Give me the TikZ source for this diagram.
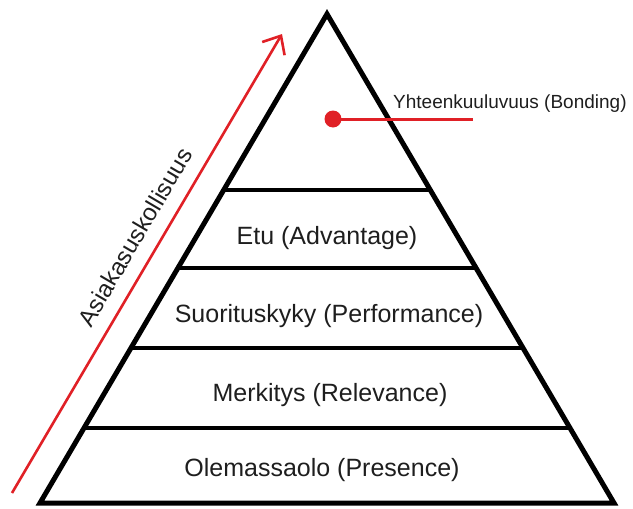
\documentclass[tikz,border=0pt]{standalone}
\usepackage{fontspec}
\setmainfont{Liberation Sans}
\usetikzlibrary{arrows.meta,calc}
\definecolor{arrowred}{RGB}{224,32,38}
\definecolor{txt}{RGB}{30,30,30}
\tikzset{
  edge/.style={line width=5pt, line join=miter, black},
  level/.style={line width=4.6pt, black},
  lvl/.style={anchor=base, inner sep=0pt, text=txt, font=\fontsize{25}{30}\selectfont},
  redline/.style={draw=arrowred, line width=2.6pt},
}
\begin{document}
\begin{tikzpicture}[x=1pt,y=-1pt]
\useasboundingbox (0,0) rectangle (633,509);
% pyramid corners
\coordinate (apex) at (327,14);
\coordinate (bl) at (40,503);
\coordinate (br) at (614,503);
\draw[edge] (apex) -- (bl) -- (br) -- cycle;
% level separators
\foreach \y/\n in {190/a,268/b,348/c,428/d}{
  \coordinate (L\n) at ($(apex)!{(\y-14)/489}!(bl)$);
  \coordinate (R\n) at ($(apex)!{(\y-14)/489}!(br)$);
  \draw[level] (L\n) -- (R\n);
}
% level labels
\node[lvl] (etu) at (327,244) {Etu (Advantage)};
\node[lvl] (suor) at (329,322) {Suorituskyky (Performance)};
\node[lvl] (merk) at (330,401) {Merkitys (Relevance)};
\node[lvl] (olem) at (322,476) {Olemassaolo (Presence)};
% top level marker
\node[circle, fill=arrowred, minimum size=17pt, inner sep=0pt] (dot) at (333,119) {};
\coordinate (dotend) at (473,119);
\draw[redline, line width=3pt] (dot.center) -- (dotend);
\node[anchor=base west, inner sep=0pt, text=txt, font=\fontsize{19}{23}\selectfont] (bond) at (393,108) {Yhteenkuuluvuus (Bonding)};
% loyalty arrow
\coordinate (tail) at (12,493);
\coordinate (tip) at (282,34);
\draw[redline, -{Straight Barb[length=15pt,width=26pt,line width=2.6pt]}] (tail) -- (tip);
\node[rotate=59.5, inner sep=0pt, text=txt, font=\fontsize{24}{28}\selectfont] (loyal) at (135,237) {Asiakasuskollisuus};
\end{tikzpicture}
\end{document}
